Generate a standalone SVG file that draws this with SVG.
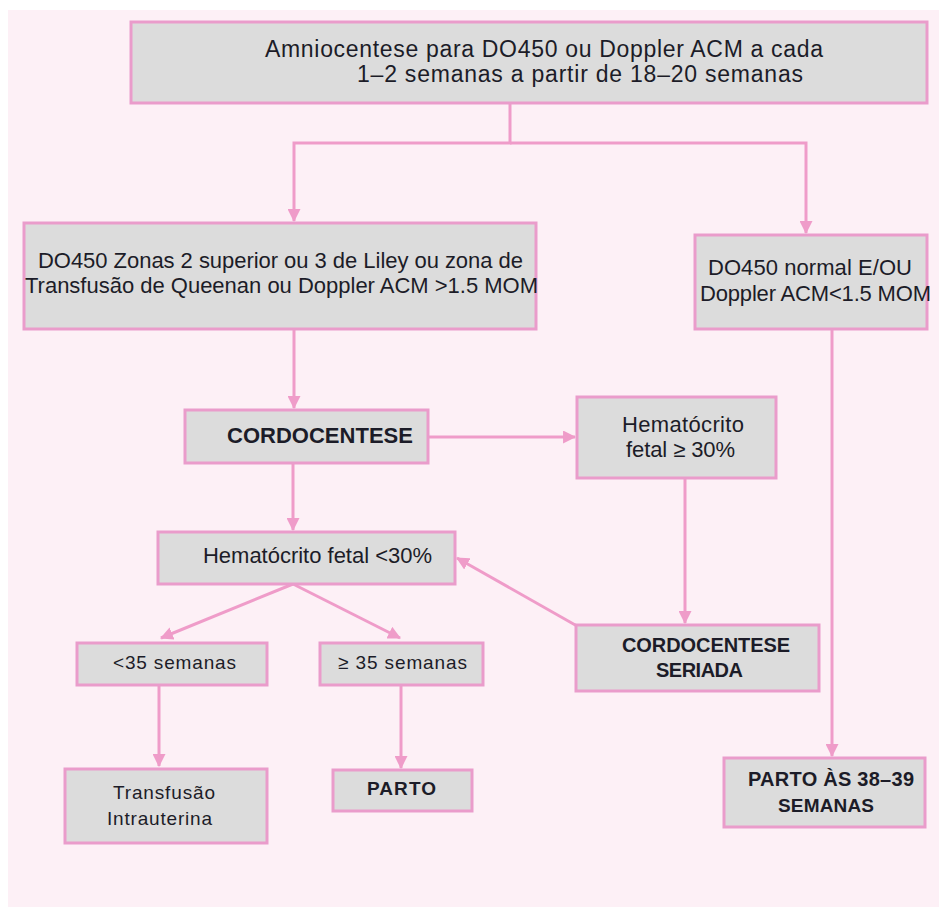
<svg xmlns="http://www.w3.org/2000/svg" width="939" height="907" viewBox="0 0 939 907">
<defs>
<style>
.bg{fill:#fdf0f6}
.box{fill:#dcdcdc;stroke:#ea9ccb;stroke-width:3}
.t{font-family:"Liberation Sans",Arial,sans-serif;fill:#1c1c28}
.b{font-weight:bold}
.c{fill:none;stroke:#ef9cc9;stroke-width:3}
</style>
<marker id="ah" viewBox="0 0 12 12" refX="11" refY="6" markerWidth="13" markerHeight="13" markerUnits="userSpaceOnUse" orient="auto">
<path d="M0,0 L12,6 L0,12 z" fill="#ef9cc9"/>
</marker>
</defs>
<rect class="bg" x="8" y="10" width="931" height="897"/>
<g id="connectors">
<path class="c" d="M510,103 V143 H294 V221" marker-end="url(#ah)"/>
<path class="c" d="M510,143 H806 V233" marker-end="url(#ah)"/>
<path class="c" d="M294,329 V408" marker-end="url(#ah)"/>
<path class="c" d="M428,437 H575" marker-end="url(#ah)"/>
<path class="c" d="M293,463 V530" marker-end="url(#ah)"/>
<path class="c" d="M685,478 V623" marker-end="url(#ah)"/>
<path class="c" d="M832,329 V756" marker-end="url(#ah)"/>
<path class="c" d="M577,626 L457,558" marker-end="url(#ah)"/>
<path class="c" d="M293,584 L161,638" marker-end="url(#ah)"/>
<path class="c" d="M293,584 L400,638" marker-end="url(#ah)"/>
<path class="c" d="M159,685 V766" marker-end="url(#ah)"/>
<path class="c" d="M401,685 V768" marker-end="url(#ah)"/>
</g>
<g id="n-top">
<rect class="box" x="131" y="22" width="796" height="81"/>
<text class="t" font-size="23" x="265" y="57" textLength="558">Amniocentese para DO450 ou Doppler ACM a cada</text>
<text class="t" font-size="23" x="357" y="82" textLength="446">1–2 semanas a partir de 18–20 semanas</text>
</g>
<g id="n-zonas">
<rect class="box" x="24" y="223" width="512" height="106"/>
<text class="t" font-size="22" x="38" y="268" textLength="485">DO450 Zonas 2 superior ou 3 de Liley ou zona de</text>
<text class="t" font-size="22" x="25" y="293" textLength="513">Transfusão de Queenan ou Doppler ACM &gt;1.5 MOM</text>
</g>
<g id="n-normal">
<rect class="box" x="695" y="235" width="232" height="94"/>
<text class="t" font-size="22" x="708" y="275" textLength="204">DO450 normal E/OU</text>
<text class="t" font-size="22" x="700" y="301" textLength="231">Doppler ACM&lt;1.5 MOM</text>
</g>
<g id="n-cordo">
<rect class="box" x="185" y="410" width="243" height="53"/>
<text class="t b" font-size="22" x="227" y="443" textLength="186">CORDOCENTESE</text>
</g>
<g id="n-hem30">
<rect class="box" x="577" y="397" width="199" height="81"/>
<text class="t" font-size="22" x="622" y="432" textLength="122">Hematócrito</text>
<text class="t" font-size="22" x="626" y="457" textLength="109">fetal ≥ 30%</text>
</g>
<g id="n-hemlt30">
<rect class="box" x="158" y="532" width="297" height="52"/>
<text class="t" font-size="22" x="203" y="563" textLength="229">Hematócrito fetal &lt;30%</text>
</g>
<g id="n-seriada">
<rect class="box" x="576" y="625" width="243" height="66"/>
<text class="t b" font-size="20" x="622" y="652" textLength="168">CORDOCENTESE</text>
<text class="t b" font-size="20" x="656" y="677" textLength="87">SERIADA</text>
</g>
<g id="n-lt35">
<rect class="box" x="77" y="643" width="190" height="42"/>
<text class="t" font-size="19" x="113" y="669" textLength="123">&lt;35 semanas</text>
</g>
<g id="n-ge35">
<rect class="box" x="320" y="643" width="163" height="42"/>
<text class="t" font-size="19" x="338" y="669" textLength="129">≥ 35 semanas</text>
</g>
<g id="n-transf">
<rect class="box" x="65" y="769" width="202" height="74"/>
<text class="t" font-size="19" x="113" y="799" textLength="102">Transfusão</text>
<text class="t" font-size="19" x="107" y="825" textLength="105">Intrauterina</text>
</g>
<g id="n-parto">
<rect class="box" x="333" y="770" width="139" height="41"/>
<text class="t b" font-size="19" x="367" y="795" textLength="69">PARTO</text>
</g>
<g id="n-parto3839">
<rect class="box" x="724" y="758" width="201" height="69"/>
<text class="t b" font-size="20" x="748" y="786" textLength="166">PARTO ÀS 38–39</text>
<text class="t b" font-size="19" x="778" y="812" textLength="96">SEMANAS</text>
</g>
</svg>
